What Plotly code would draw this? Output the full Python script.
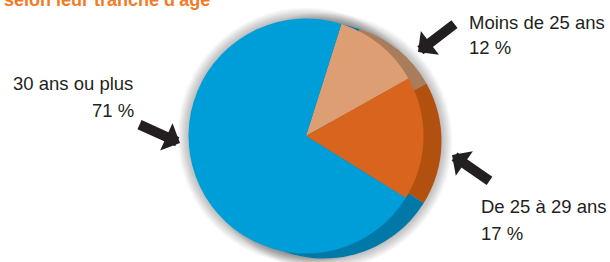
import plotly.graph_objects as go

# ---- data ----
labels = ["Moins de 25 ans", "De 25 à 29 ans", "30 ans ou plus"]
values = [12, 17, 71]
pct_labels = ["12 %", "17 %", "71 %"]
title_text = "selon leur tranche d'âge"

# ---- styling ----
front_colors = ["#DE9E74", "#D8641E", "#009ED8"]
side_colors = ["#A97C5C", "#B2510F", "#0079A8"]
text_color = "#231F20"
title_color = "#F07C28"
FONT = "Liberation Sans, Arial, sans-serif"

W, H = 610, 262
cx, cy, r = 306, 136, 117.5
dx, dy = 18, 5


def px(x):
    return x / W


def py(y):
    return 1 - y / H


def dom(cx_, cy_, r_):
    return dict(x=[px(cx_ - r_), px(cx_ + r_)], y=[py(cy_ + r_), py(cy_ - r_)])


fig = go.Figure()

# side (3D band) pie behind
fig.add_trace(go.Pie(
    labels=labels, values=values, sort=False, direction="clockwise", rotation=17.5,
    marker=dict(colors=side_colors, line=dict(width=0)),
    textinfo="none", hoverinfo="skip", showlegend=False,
    domain=dom(cx + dx, cy + dy, r),
))
# front face
fig.add_trace(go.Pie(
    labels=labels, values=values, sort=False, direction="clockwise", rotation=17.5,
    marker=dict(colors=front_colors, line=dict(width=0)),
    textinfo="none", showlegend=False,
    domain=dom(cx, cy, r),
))

# soft shadow glow
shapes = []
for ccx, ccy in [(cx, cy), (cx + dx, cy + dy)]:
    for k in range(1, 12):
        rr = r + k
        shapes.append(dict(
            type="circle", xref="paper", yref="paper", layer="below",
            x0=px(ccx - rr), x1=px(ccx + rr), y0=py(ccy + rr), y1=py(ccy - rr),
            fillcolor="rgba(0,0,0,0.024)", line=dict(width=0),
        ))

annotations = []
# title (cut at top)
annotations.append(dict(
    text="<b>" + title_text + "</b>", x=px(2), y=py(0.5), xref="paper", yref="paper",
    xanchor="left", yanchor="middle", showarrow=False,
    font=dict(family=FONT, size=18, color=title_color),
))

label_pos = [
    # (x, y_line1, y_line2, anchor1, x2, anchor2)
    (467, 22, 47.5, "left", 467, "left"),
    (479, 206, 233, "left", 479, "left"),
    (11, 83.5, 110.5, "left", 136, "right"),
]
for i, (x1, y1, y2, a1, x2, a2) in enumerate(label_pos):
    annotations.append(dict(
        text=labels[i], x=px(x1), y=py(y1), xref="paper", yref="paper",
        xanchor=a1, yanchor="middle", showarrow=False,
        font=dict(family=FONT, size=18.5, color=text_color),
    ))
    annotations.append(dict(
        text=pct_labels[i], x=px(x2), y=py(y2), xref="paper", yref="paper",
        xanchor=a2, yanchor="middle", showarrow=False,
        font=dict(family=FONT, size=18.5, color=text_color),
    ))

# arrows: tip position, tail offset
arrows = [
    (418, 52, 38, -29),
    (452, 155, 39, 27),
    (180, 143, -42, -19),
]
for tx, ty, ax, ay in arrows:
    annotations.append(dict(
        text="", x=px(tx), y=py(ty), xref="paper", yref="paper",
        showarrow=True, ax=ax, ay=ay, arrowhead=1, arrowsize=0.5,
        arrowwidth=10, arrowcolor=text_color, standoff=0,
    ))

fig.update_layout(
    width=W, height=H, margin=dict(l=0, r=0, t=0, b=0),
    paper_bgcolor="white", plot_bgcolor="white",
    shapes=shapes, annotations=annotations,
)

fig.write_html(
    "out.html",
    config={"displayModeBar": False},
    post_script="document.body.style.margin='0';document.body.style.overflow='hidden';",
)
